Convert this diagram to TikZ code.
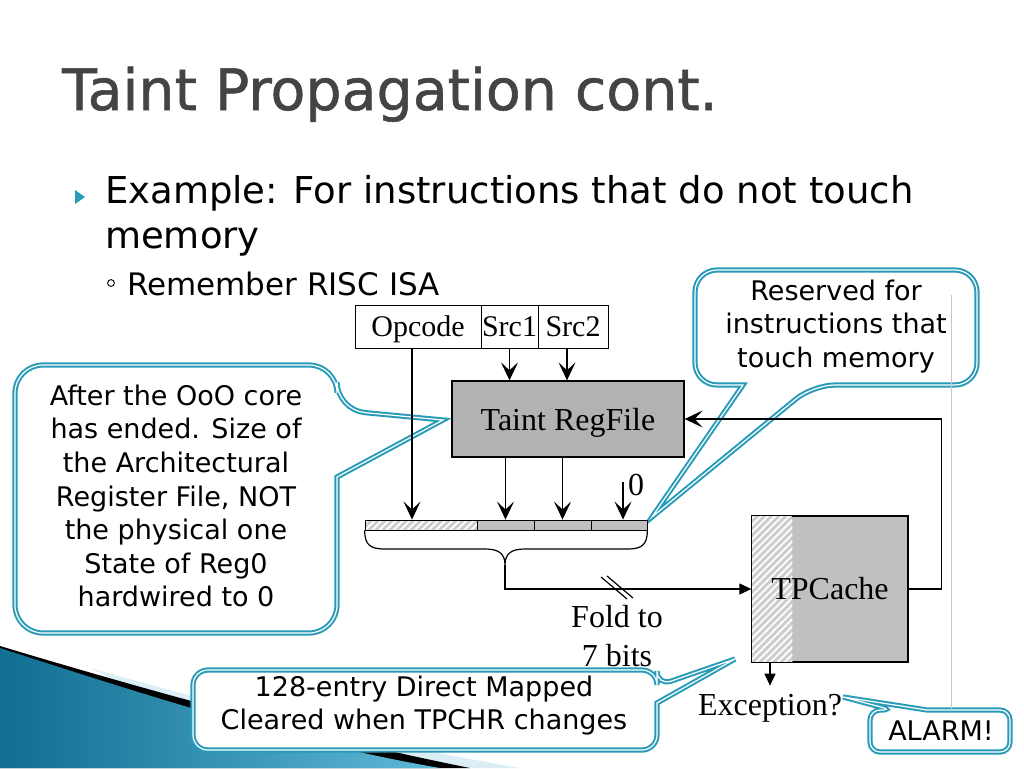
\documentclass[tikz,border=0pt]{standalone}
\usepackage{fontspec}
\setmainfont{Liberation Serif}
\newfontfamily\slidefont{DejaVu Sans}
\newfontfamily\titlefont{DejaVu Sans}[FakeBold=1]
\usetikzlibrary{arrows.meta,patterns.meta}
\definecolor{cblue}{RGB}{40,155,185}
\definecolor{titlegray}{RGB}{68,68,68}
\definecolor{boxgray}{RGB}{178,178,178}
\definecolor{cellgray}{RGB}{192,192,192}
\definecolor{hatchgray}{RGB}{205,205,205}
\definecolor{swdark}{RGB}{16,110,145}
\definecolor{swlight}{RGB}{95,185,215}
\definecolor{swpale}{RGB}{220,238,245}
\definecolor{rulegray}{RGB}{200,200,200}
\begin{document}
\begin{tikzpicture}[x=1pt,y=-1pt,
  callout/.style={draw=cblue,line width=2pt,double=white,double distance=1.2pt,fill=white},
  ctext/.style={font=\slidefont\fontsize{27pt}{33.6pt}\selectfont,align=center,inner sep=0pt},
  dfont/.style={font=\fontsize{32pt}{39pt}\selectfont},
  cell/.style={draw,line width=1pt,fill=white,minimum height=43pt,inner sep=0pt,text depth=0pt,font=\fontsize{30pt}{34pt}\selectfont},
  bar/.style={draw,line width=0.9pt,minimum height=10pt,inner sep=0pt},
  wire/.style={line width=1.2pt},
  arr/.style={wire,-{Stealth[length=18pt,width=17pt,inset=8pt]}},
  arrs/.style={wire,-{Stealth[length=12pt,width=11pt,inset=0pt]}},
  hatch/.style={pattern={Lines[angle=45,distance=5pt,line width=1.8pt]},pattern color=white},
]
\useasboundingbox (0,0) rectangle (1024,768);
\fill[white] (0,0) rectangle (1024,768);

% background swoosh
\fill[swpale] (90,668) .. controls (230,708) and (380,744) .. (520,768) -- (300,768) -- cycle;
\fill[black] (0,646) .. controls (160,694) and (320,738) .. (470,768) -- (0,768) -- cycle;
\shade[left color=swdark,right color=swlight] (0,648) .. controls (160,700) and (300,744) .. (440,768) -- (0,768) -- cycle;

% title and bullets
\node[anchor=base west,inner sep=0pt,font=\titlefont\fontsize{57pt}{60pt}\selectfont,text=titlegray] (title) at (62,110) {Taint Propagation cont.};
\fill[cblue] (75,190) -- (85,197) -- (75,204) -- cycle;
\node[anchor=base west,inner sep=0pt,font=\slidefont\fontsize{37pt}{45pt}\selectfont] (ex1) at (105,203) {Example: For instructions that do not touch};
\node[anchor=base west,inner sep=0pt,font=\slidefont\fontsize{37pt}{45pt}\selectfont] (ex2) at (105,248) {memory};
\draw[line width=0.9pt] (111,283) circle[radius=3.4];
\node[anchor=base west,inner sep=0pt,font=\slidefont\fontsize{31pt}{36pt}\selectfont] (rem) at (127,295) {Remember RISC ISA};

% callout shapes
\draw[callout,rounded corners=28pt] (15,500) -- (15,365) -- (337,365) -- (337,410) [sharp corners] -- (443,420) -- (337,477) [rounded corners=28pt] -- (337,633) -- (15,633) -- cycle;
\draw[callout,rounded corners=22pt] (695,330) -- (695,270) -- (977,270) -- (977,385) -- (813,385) [sharp corners] -- (652,517) -- (743,385) [rounded corners=22pt] -- (695,385) -- cycle;
\draw[callout,rounded corners=15pt] (193,710) -- (193,670) -- (657,670) -- (657,686) [sharp corners] -- (735,659) -- (657,703) [rounded corners=15pt] -- (657,750) -- (193,750) -- cycle;
\draw[callout,rounded corners=10pt] (870,731) -- (870,710) -- (892,710) [sharp corners] -- (843,697) -- (927,710) [rounded corners=10pt] -- (1010,710) -- (1010,752) -- (870,752) -- cycle;

% callout texts
\node[ctext,anchor=north] (c1) at (176,384.5) {After the OoO core\\has ended. Size of\\the Architectural\\Register File, NOT\\the physical one\\State of Reg0\\hardwired to 0};
\node[ctext,anchor=north] (c2) at (836,279.5) {Reserved for\\instructions that\\touch memory};
\node[ctext,anchor=north] (c3) at (424,675.5) {128-entry Direct Mapped\\Cleared when TPCHR changes};
\node[ctext,anchor=base] (c4) at (941,740) {ALARM!};

% instruction fields
\node[cell,minimum width=126pt] (opc) at (418,326.5) {Opcode};
\node[cell,minimum width=57pt] (src1) at (509.5,326.5) {Src1};
\node[cell,minimum width=70pt] (src2) at (573,326.5) {Src2};

% taint register file
\node[draw,line width=1.3pt,fill=boxgray,minimum width=232pt,minimum height=76pt,text depth=0pt,dfont] (trf) at (568,419) {Taint RegFile};

% taint vector bar
\node[bar,minimum width=112pt,preaction={fill=hatchgray},preaction={hatch}] (barh) at (421,525) {};
\node[bar,fill=cellgray,minimum width=57pt] (s1) at (505.5,525) {};
\node[bar,fill=cellgray,minimum width=57pt] (s2) at (562.5,525) {};
\node[bar,fill=cellgray,minimum width=56pt] (s3) at (619,525) {};

\draw[arr] ([xshift=-6pt]opc.south) -- ([xshift=-6pt]opc.south |- barh.north);
\draw[arr] (src1.south) -- (src1.south |- trf.north);
\draw[arr] ([xshift=-6pt]src2.south) -- ([xshift=-6pt]src2.south |- trf.north);
\draw[arr] (s1.north |- trf.south) -- (s1.north);
\draw[arr] (s2.north |- trf.south) -- (s2.north);
\node[dfont,inner sep=0pt] (zero) at (636,485) {0};
\draw[arr] ([xshift=4pt,yshift=-8pt]s3.north |- zero.north) -- ([xshift=4pt]s3.north);

% brace
\draw[wire] (barh.south west) .. controls (365,545) and (370,549) .. (385,549) -- (485,549)
  .. controls (498,549) and (505,553) .. (505,565) coordinate (btip)
  .. controls (505,553) and (512,549) .. (525,549) -- (627,549)
  .. controls (642,549) and (647,545) .. (s3.south east);

% TPCache
\node[draw,line width=1.3pt,fill=cellgray,minimum width=156pt,minimum height=146pt,inner sep=0pt] (tpc) at (830,589) {};
\path[preaction={fill=hatchgray},hatch] (tpc.north west) rectangle ([xshift=41pt]tpc.south west);
\draw[line width=1.3pt] (tpc.north west) rectangle (tpc.south east);
\node[dfont,inner sep=0pt] (tpclbl) at (tpc.center) {TPCache};

\draw[arrs] (btip) |- (tpc.west);
\draw[wire] (601,577) -- (627,599) (607,576) -- (633,598);
\node[dfont,align=center,anchor=north,inner sep=0pt] (fold) at (617,605) {Fold to\\7 bits};

\draw[arr] (tpc.east) -- ++(33,0) |- (trf.east);

\node[dfont,anchor=base,inner sep=0pt] (exc) at (770,715) {Exception?};
\draw[arrs] (tpc.south -| exc) -- ++(0,23);

% thin rule at right
\draw[rulegray,line width=0.8pt] (951,295) -- (951,710);
\end{tikzpicture}
\end{document}
